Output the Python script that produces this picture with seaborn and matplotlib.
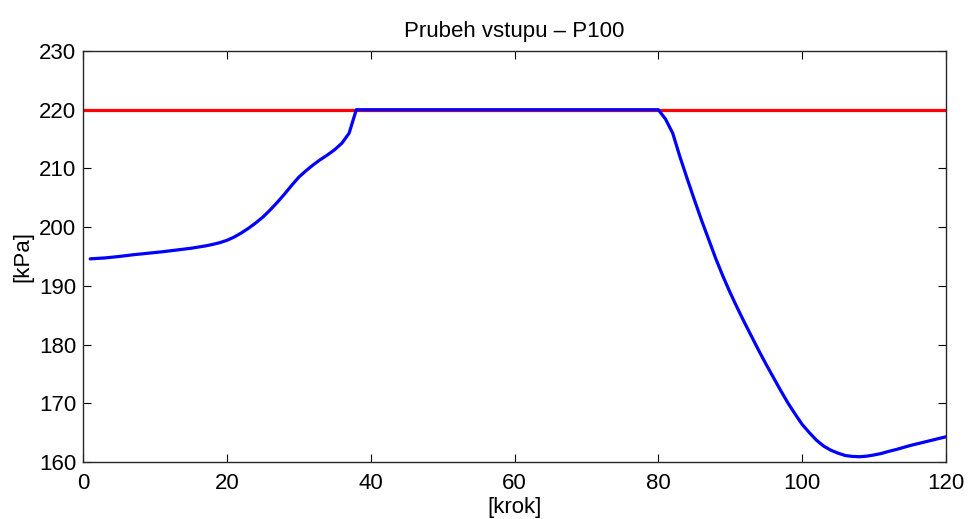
import matplotlib
matplotlib.use("Agg")
import matplotlib.pyplot as plt
import seaborn as sns
import pandas as pd

# data
krok = [1, 3, 5, 7, 9, 11, 13, 15, 16, 17, 18, 19, 20, 21, 22, 23, 24, 25,
        26, 27, 28, 29, 30, 31, 32, 33, 34, 35, 36, 37, 38,
        80, 81, 82, 83, 84, 85, 86, 87, 88, 89, 90, 91, 92, 93, 94, 95, 96,
        97, 98, 99, 100, 101, 102, 103, 104, 105, 106, 107, 108, 109, 110,
        111, 112, 113, 114, 115, 116, 117, 118, 119, 120]
vstup = [194.6, 194.75, 195.0, 195.3, 195.55, 195.8, 196.1, 196.4, 196.6,
         196.8, 197.05, 197.35, 197.75, 198.3, 199.0, 199.8, 200.7, 201.7,
         202.9, 204.2, 205.6, 207.1, 208.5, 209.6, 210.6, 211.5, 212.3,
         213.2, 214.3, 216.0, 220.0,
         220.0, 218.4, 216.0, 212.0, 208.3, 204.7, 201.2, 197.9, 194.6,
         191.6, 188.8, 186.2, 183.7, 181.3, 178.9, 176.6, 174.4, 172.2,
         170.1, 168.2, 166.4, 165.0, 163.7, 162.7, 162.0, 161.5, 161.1,
         160.95, 160.9, 161.0, 161.2, 161.45, 161.8, 162.1, 162.45, 162.8,
         163.1, 163.4, 163.7, 164.0, 164.3]
limit_x = [0, 120]
limit_y = [220, 220]
x_ticks = [0, 20, 40, 60, 80, 100, 120]
y_ticks = [160, 170, 180, 190, 200, 210, 220, 230]

sns.set_style("white")
plt.rcParams['font.family'] = ['Liberation Sans', 'DejaVu Sans']
plt.rcParams['text.color'] = '#000000'
plt.rcParams['axes.labelcolor'] = '#000000'

fig = plt.figure(figsize=(9.69, 5.19), dpi=100)
ax = fig.add_axes([83/969, 57/519, 863/969, 411/519])

df_lim = pd.DataFrame({"x": limit_x, "y": limit_y})
df_v = pd.DataFrame({"x": krok, "y": vstup})
sns.lineplot(data=df_lim, x="x", y="y", ax=ax, color="#ff0000", linewidth=2.3)
sns.lineplot(data=df_v, x="x", y="y", ax=ax, color="#0000ff", linewidth=2.3)

ax.set_xlim(0, 120)
ax.set_ylim(160, 230)
ax.set_xticks(x_ticks)
ax.set_yticks(y_ticks)
ax.tick_params(axis='both', which='both', direction='in', length=6, width=0.8,
               labelsize=16, colors='#000000', top=True, right=True,
               bottom=True, left=True)
ax.tick_params(axis='y', pad=5)
ax.tick_params(axis='x', pad=8)
for s in ax.spines.values():
    s.set_color('#262626')
    s.set_linewidth(1.0)
    s.set_visible(True)

ax.set_title("Prubeh vstupu – P100", fontsize=16, pad=10, color='#000000')
ax.set_xlabel("[krok]", fontsize=16, labelpad=2)
ax.set_ylabel("[kPa]", fontsize=16, labelpad=4)

fig.savefig("out.png", dpi=100)
